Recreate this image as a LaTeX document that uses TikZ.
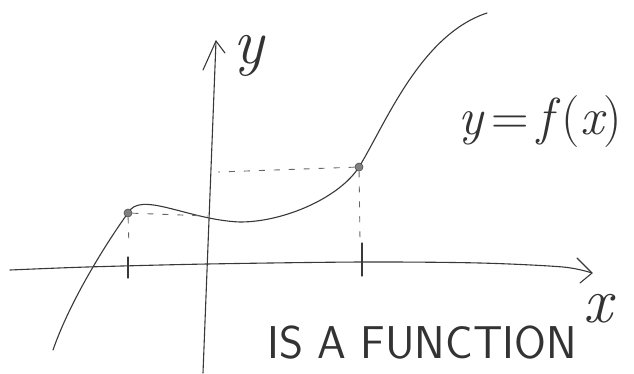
\documentclass[tikz,border=0pt]{standalone}
\usepackage{fontspec}
\begin{document}
\begin{tikzpicture}[x=1pt,y=-1pt,
  pen/.style={draw=black!78, line width=1.1pt, line cap=round, line join=round},
  guide/.style={draw=black!60, line width=0.9pt, dash pattern=on 6pt off 9pt},
  dotmark/.style={circle, fill=black!50, draw=black!70, line width=0.6pt, inner sep=0pt, minimum size=8pt},
  lbl/.style={text=black!80, inner sep=0pt}]
\useasboundingbox (0,0) rectangle (634,373);
% axes
\coordinate (xs) at (10,270);
\coordinate (xt) at (592,273);
\coordinate (ys) at (203,373);
\coordinate (yt) at (216,41);
\draw[pen] plot[smooth, tension=0.5] coordinates {(xs) (87,267) (207,264) (362,262) (480,263) (563,267) (xt)};
\draw[pen] (577,258) -- (xt) -- (580,283);
\draw[pen] (ys) -- (yt);
\draw[pen] (203,70) -- (yt) -- (225,53);
% ticks
\coordinate (ta1) at (128,257);
\coordinate (ta2) at (128,278);
\coordinate (tb1) at (362,243);
\coordinate (tb2) at (362,276);
\draw[pen] (ta1) -- (ta2);
\draw[pen] (tb1) -- (tb2);
% curve
\coordinate (c0) at (53,350);
\coordinate (cA) at (128,213);
\coordinate (cm) at (240,222);
\coordinate (cB) at (359,167);
\coordinate (ce) at (487,13);
\draw[pen] (c0) .. controls (72,295) and (114,232) .. (cA)
  .. controls (140,190) and (188,220) .. (cm)
  .. controls (285,222) and (340,197) .. (cB)
  .. controls (385,125) and (420,35) .. (ce);
% marked points
\node[dotmark] (A) at (cA) {};
\node[dotmark] (B) at (cB) {};
\coordinate (Ay) at (208,216);
\coordinate (Ax) at (129,247);
\coordinate (By) at (218,172);
\coordinate (Bx) at (360,240);
\draw[guide] (A) -- (Ay);
\draw[guide] (A) -- (Ax);
\draw[guide] (B) -- (By);
\draw[guide] (B) -- (Bx);
% labels
\node[lbl, anchor=base] (ylab) at (249,63) {\fontsize{64}{66}\selectfont\itshape y};
\node[lbl, anchor=base] (xlab) at (598,322) {\fontsize{64}{66}\selectfont\itshape x};
\node[lbl, anchor=base west] (flab) at (458,134) {\fontsize{52}{54}\selectfont{\itshape y}\,=\,{\itshape f}\,({\itshape x})};
\node[lbl, anchor=base west] (tlab) at (267,358) {\fontsize{46}{48}\selectfont\sffamily IS A FUNCTION};
\end{tikzpicture}
\end{document}
